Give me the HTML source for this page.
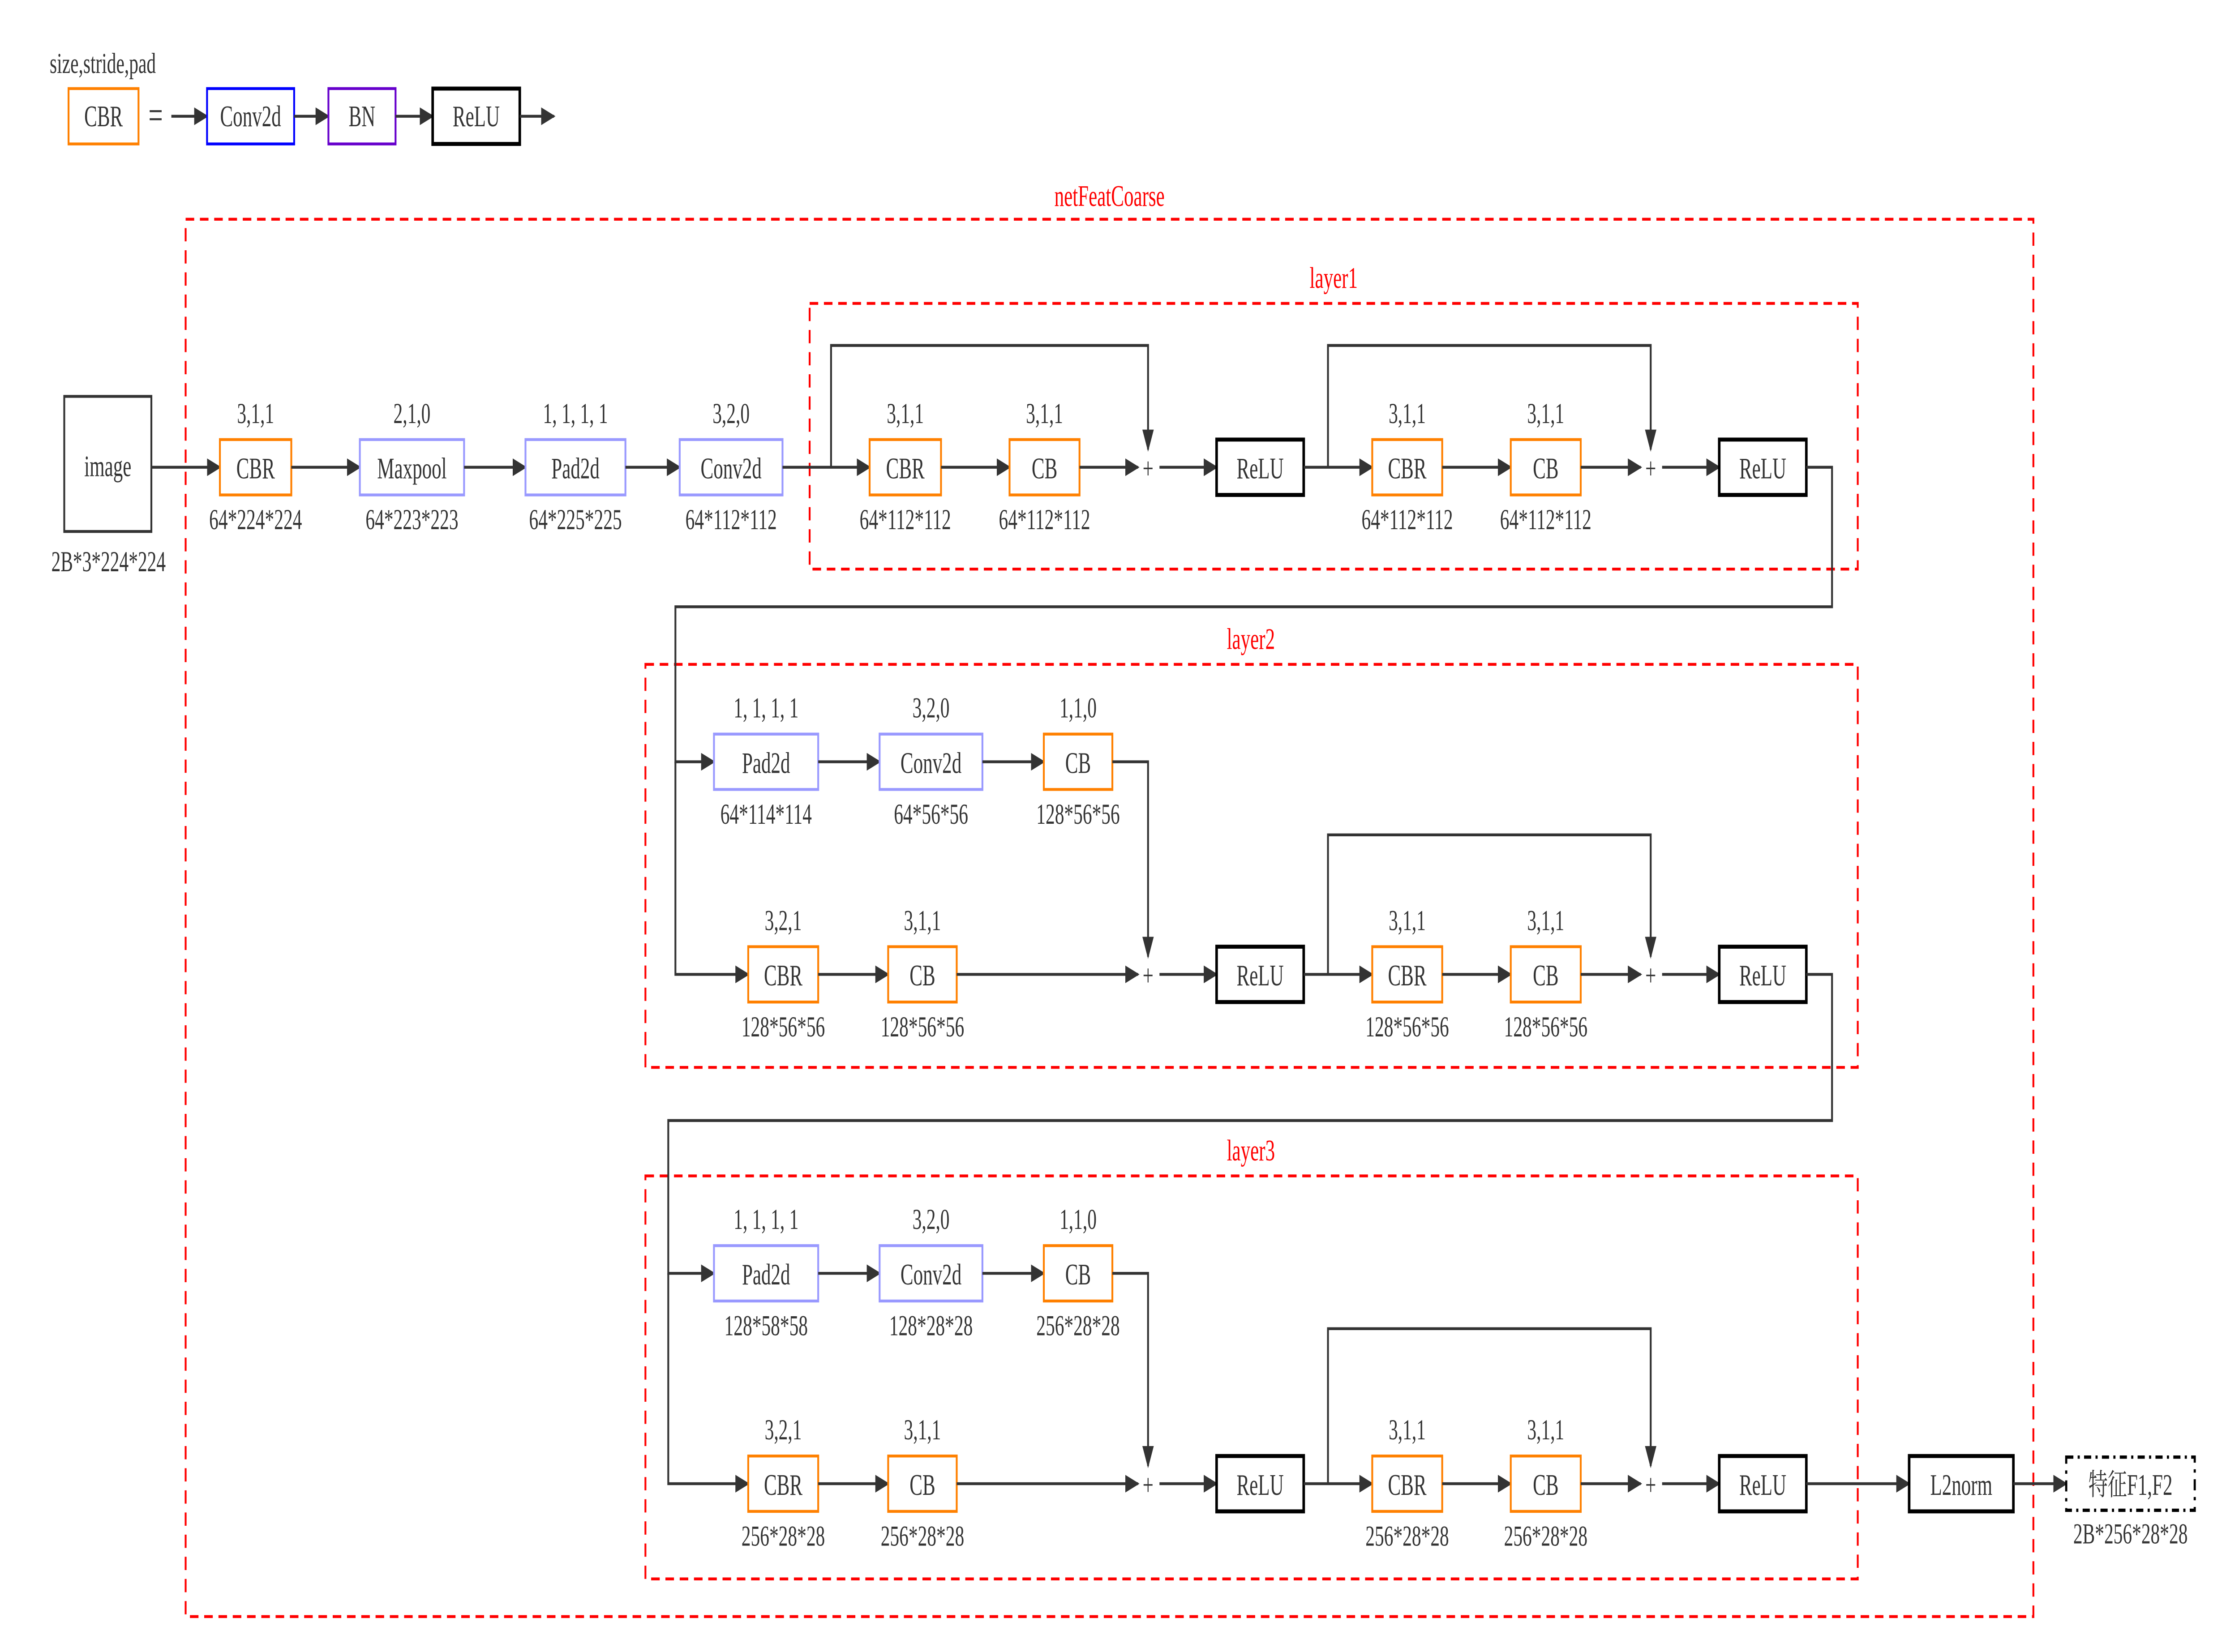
<!DOCTYPE html>
<html><head><meta charset="utf-8"><style>
html,body{margin:0;padding:0;background:#fff;width:100%;height:100%;overflow:hidden;}
svg{display:block;width:100vw;height:100vh;}
text{font-family:"Liberation Serif","Noto Serif CJK SC","Noto Sans CJK SC",serif;fill:#333;text-anchor:middle;}
.t{font-size:13.5px;}
.l{font-size:13px;}
.r{fill:#f00;font-size:13.5px;}
.e{stroke:#333;stroke-width:1.3;fill:none;}
.o{fill:#fff;stroke:#ff8000;stroke-width:1.3;}
.p{fill:#fff;stroke:#9999ff;stroke-width:1.3;}
.k{fill:#fff;stroke:#000;stroke-width:1.8;}
.d{fill:none;stroke:#f00;stroke-width:1.3;stroke-dasharray:6,4;}
</style></head><body>
<svg viewBox="0 0 1568 746" preserveAspectRatio="none" xmlns="http://www.w3.org/2000/svg">
<defs><marker id="a" markerUnits="userSpaceOnUse" markerWidth="10" markerHeight="8" refX="9" refY="4" orient="auto"><path d="M0,0L10,4L0,8z" fill="#333"/></marker></defs>
<!-- legend -->
<text class="l" x="72" y="33">size,stride,pad</text>
<rect class="o" x="48" y="40" width="49" height="25"/><text class="t" x="72.5" y="57">CBR</text>
<text class="t" x="109" y="58" style="font-size:18px">=</text>
<path class="e" d="M120,52.5H145" marker-end="url(#a)"/>
<rect x="145" y="40" width="61" height="25" fill="#fff" stroke="#00f" stroke-width="1.3"/><text class="t" x="175.5" y="57">Conv2d</text>
<path class="e" d="M206,52.5H230" marker-end="url(#a)"/>
<rect x="230" y="40" width="47" height="25" fill="#fff" stroke="#6600cc" stroke-width="1.3"/><text class="t" x="253.5" y="57">BN</text>
<path class="e" d="M277,52.5H303" marker-end="url(#a)"/>
<rect class="k" x="303" y="40" width="61" height="25"/><text class="t" x="333.5" y="57">ReLU</text>
<path class="e" d="M364,52.5H388" marker-end="url(#a)"/>

<!-- containers -->
<rect class="d" x="130" y="99" width="1294" height="631"/>
<text class="r" x="777" y="93">netFeatCoarse</text>
<rect class="d" x="567" y="137" width="734" height="120"/>
<text class="r" x="934" y="130">layer1</text>
<rect class="d" x="452" y="300" width="849" height="182"/>
<text class="r" x="876" y="293">layer2</text>
<rect class="d" x="452" y="531" width="849" height="182"/>
<text class="r" x="876" y="524">layer3</text>

<!-- top row -->
<rect x="45" y="179" width="61" height="61" fill="#fff" stroke="#333" stroke-width="1.3"/><text class="t" x="75.5" y="215">image</text>
<text class="l" x="76" y="258">2B*3*224*224</text>
<path class="e" d="M106,211H154" marker-end="url(#a)"/>
<rect class="o" x="154" y="198.5" width="50" height="25"/><text class="t" x="179" y="216">CBR</text>
<text class="l" x="179" y="191">3,1,1</text><text class="l" x="179" y="239">64*224*224</text>
<path class="e" d="M204,211H252" marker-end="url(#a)"/>
<rect class="p" x="252" y="198.5" width="73" height="25"/><text class="t" x="288.5" y="216">Maxpool</text>
<text class="l" x="288.5" y="191">2,1,0</text><text class="l" x="288.5" y="239">64*223*223</text>
<path class="e" d="M325,211H368" marker-end="url(#a)"/>
<rect class="p" x="368" y="198.5" width="70" height="25"/><text class="t" x="403" y="216">Pad2d</text>
<text class="l" x="403" y="191">1, 1, 1, 1</text><text class="l" x="403" y="239">64*225*225</text>
<path class="e" d="M438,211H476" marker-end="url(#a)"/>
<rect class="p" x="476" y="198.5" width="72" height="25"/><text class="t" x="512" y="216">Conv2d</text>
<text class="l" x="512" y="191">3,2,0</text><text class="l" x="512" y="239">64*112*112</text>

<!-- layer1 -->
<path class="e" d="M548,211H609" marker-end="url(#a)"/>
<path class="e" d="M582,211V156H804V203" marker-end="url(#a)"/>
<rect class="o" x="609" y="198.5" width="50" height="25"/><text class="t" x="634" y="216">CBR</text>
<text class="l" x="634" y="191">3,1,1</text><text class="l" x="634" y="239">64*112*112</text>
<path class="e" d="M659,211H707" marker-end="url(#a)"/>
<rect class="o" x="707" y="198.5" width="49" height="25"/><text class="t" x="731.5" y="216">CB</text>
<text class="l" x="731.5" y="191">3,1,1</text><text class="l" x="731.5" y="239">64*112*112</text>
<path class="e" d="M756,211H797" marker-end="url(#a)"/>
<text class="t" x="804" y="216">+</text>
<path class="e" d="M812,211H852" marker-end="url(#a)"/>
<rect class="k" x="852" y="198.5" width="61" height="25"/><text class="t" x="882.5" y="216">ReLU</text>
<path class="e" d="M913,211H961" marker-end="url(#a)"/>
<path class="e" d="M930,211V156H1156V203" marker-end="url(#a)"/>
<rect class="o" x="961" y="198.5" width="49" height="25"/><text class="t" x="985.5" y="216">CBR</text>
<text class="l" x="985.5" y="191">3,1,1</text><text class="l" x="985.5" y="239">64*112*112</text>
<path class="e" d="M1010,211H1058" marker-end="url(#a)"/>
<rect class="o" x="1058" y="198.5" width="49" height="25"/><text class="t" x="1082.5" y="216">CB</text>
<text class="l" x="1082.5" y="191">3,1,1</text><text class="l" x="1082.5" y="239">64*112*112</text>
<path class="e" d="M1107,211H1149" marker-end="url(#a)"/>
<text class="t" x="1156" y="216">+</text>
<path class="e" d="M1164,211H1204" marker-end="url(#a)"/>
<rect class="k" x="1204" y="198.5" width="61" height="25"/><text class="t" x="1234.5" y="216">ReLU</text>
<path class="e" d="M1265,211H1283V274H473V344H500" marker-end="url(#a)"/>
<path class="e" d="M473,344V440H524" marker-end="url(#a)"/>

<!-- layer2 row1 -->
<rect class="p" x="500" y="331.5" width="73" height="25"/><text class="t" x="536.5" y="349">Pad2d</text>
<text class="l" x="536.5" y="324">1, 1, 1, 1</text><text class="l" x="536.5" y="372">64*114*114</text>
<path class="e" d="M573,344H616" marker-end="url(#a)"/>
<rect class="p" x="616" y="331.5" width="72" height="25"/><text class="t" x="652" y="349">Conv2d</text>
<text class="l" x="652" y="324">3,2,0</text><text class="l" x="652" y="372">64*56*56</text>
<path class="e" d="M688,344H731" marker-end="url(#a)"/>
<rect class="o" x="731" y="331.5" width="48" height="25"/><text class="t" x="755" y="349">CB</text>
<text class="l" x="755" y="324">1,1,0</text><text class="l" x="755" y="372">128*56*56</text>
<path class="e" d="M779,344H804V432" marker-end="url(#a)"/>
<!-- layer2 row2 -->
<rect class="o" x="524" y="427.5" width="49" height="25"/><text class="t" x="548.5" y="445">CBR</text>
<text class="l" x="548.5" y="420">3,2,1</text><text class="l" x="548.5" y="468">128*56*56</text>
<path class="e" d="M573,440H622" marker-end="url(#a)"/>
<rect class="o" x="622" y="427.5" width="48" height="25"/><text class="t" x="646" y="445">CB</text>
<text class="l" x="646" y="420">3,1,1</text><text class="l" x="646" y="468">128*56*56</text>
<path class="e" d="M670,440H797" marker-end="url(#a)"/>
<text class="t" x="804" y="445">+</text>
<path class="e" d="M812,440H852" marker-end="url(#a)"/>
<rect class="k" x="852" y="427.5" width="61" height="25"/><text class="t" x="882.5" y="445">ReLU</text>
<path class="e" d="M913,440H961" marker-end="url(#a)"/>
<path class="e" d="M930,440V377H1156V432" marker-end="url(#a)"/>
<rect class="o" x="961" y="427.5" width="49" height="25"/><text class="t" x="985.5" y="445">CBR</text>
<text class="l" x="985.5" y="420">3,1,1</text><text class="l" x="985.5" y="468">128*56*56</text>
<path class="e" d="M1010,440H1058" marker-end="url(#a)"/>
<rect class="o" x="1058" y="427.5" width="49" height="25"/><text class="t" x="1082.5" y="445">CB</text>
<text class="l" x="1082.5" y="420">3,1,1</text><text class="l" x="1082.5" y="468">128*56*56</text>
<path class="e" d="M1107,440H1149" marker-end="url(#a)"/>
<text class="t" x="1156" y="445">+</text>
<path class="e" d="M1164,440H1204" marker-end="url(#a)"/>
<rect class="k" x="1204" y="427.5" width="61" height="25"/><text class="t" x="1234.5" y="445">ReLU</text>
<path class="e" d="M1265,440H1283V506H468V575H500" marker-end="url(#a)"/>
<path class="e" d="M468,575V670H524" marker-end="url(#a)"/>

<!-- layer3 row1 -->
<rect class="p" x="500" y="562.5" width="73" height="25"/><text class="t" x="536.5" y="580">Pad2d</text>
<text class="l" x="536.5" y="555">1, 1, 1, 1</text><text class="l" x="536.5" y="603">128*58*58</text>
<path class="e" d="M573,575H616" marker-end="url(#a)"/>
<rect class="p" x="616" y="562.5" width="72" height="25"/><text class="t" x="652" y="580">Conv2d</text>
<text class="l" x="652" y="555">3,2,0</text><text class="l" x="652" y="603">128*28*28</text>
<path class="e" d="M688,575H731" marker-end="url(#a)"/>
<rect class="o" x="731" y="562.5" width="48" height="25"/><text class="t" x="755" y="580">CB</text>
<text class="l" x="755" y="555">1,1,0</text><text class="l" x="755" y="603">256*28*28</text>
<path class="e" d="M779,575H804V662" marker-end="url(#a)"/>
<!-- layer3 row2 -->
<rect class="o" x="524" y="657.5" width="49" height="25"/><text class="t" x="548.5" y="675">CBR</text>
<text class="l" x="548.5" y="650">3,2,1</text><text class="l" x="548.5" y="698">256*28*28</text>
<path class="e" d="M573,670H622" marker-end="url(#a)"/>
<rect class="o" x="622" y="657.5" width="48" height="25"/><text class="t" x="646" y="675">CB</text>
<text class="l" x="646" y="650">3,1,1</text><text class="l" x="646" y="698">256*28*28</text>
<path class="e" d="M670,670H797" marker-end="url(#a)"/>
<text class="t" x="804" y="675">+</text>
<path class="e" d="M812,670H852" marker-end="url(#a)"/>
<rect class="k" x="852" y="657.5" width="61" height="25"/><text class="t" x="882.5" y="675">ReLU</text>
<path class="e" d="M913,670H961" marker-end="url(#a)"/>
<path class="e" d="M930,670V600H1156V662" marker-end="url(#a)"/>
<rect class="o" x="961" y="657.5" width="49" height="25"/><text class="t" x="985.5" y="675">CBR</text>
<text class="l" x="985.5" y="650">3,1,1</text><text class="l" x="985.5" y="698">256*28*28</text>
<path class="e" d="M1010,670H1058" marker-end="url(#a)"/>
<rect class="o" x="1058" y="657.5" width="49" height="25"/><text class="t" x="1082.5" y="675">CB</text>
<text class="l" x="1082.5" y="650">3,1,1</text><text class="l" x="1082.5" y="698">256*28*28</text>
<path class="e" d="M1107,670H1149" marker-end="url(#a)"/>
<text class="t" x="1156" y="675">+</text>
<path class="e" d="M1164,670H1204" marker-end="url(#a)"/>
<rect class="k" x="1204" y="657.5" width="61" height="25"/><text class="t" x="1234.5" y="675">ReLU</text>
<path class="e" d="M1265,670H1337" marker-end="url(#a)"/>
<rect class="k" x="1337" y="657.5" width="73" height="25"/><text class="t" x="1373.5" y="675">L2norm</text>
<path class="e" d="M1410,670H1447" marker-end="url(#a)"/>
<rect x="1447" y="658" width="90" height="24" fill="#fff" stroke="#000" stroke-width="1.5" stroke-dasharray="5,3,1.5,3"/>
<text class="t" x="1492" y="675">特征F1,F2</text>
<text class="l" x="1492" y="697">2B*256*28*28</text>
</svg>
</body></html>
